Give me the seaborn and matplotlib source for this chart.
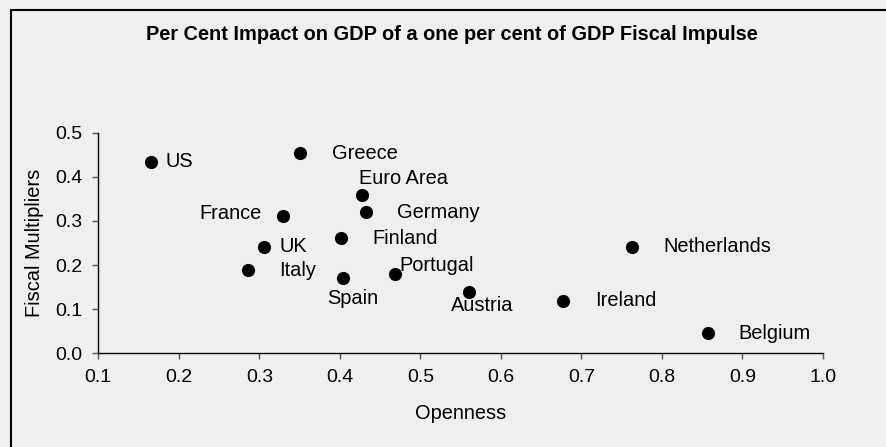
import matplotlib
matplotlib.use("Agg")
import matplotlib.pyplot as plt
from matplotlib.patches import Rectangle
import seaborn as sns
import pandas as pd

countries = ["US", "Greece", "Euro Area", "Germany", "France", "Finland", "UK",
             "Italy", "Spain", "Portugal", "Austria", "Netherlands", "Ireland", "Belgium"]
openness = [0.165, 0.350, 0.428, 0.432, 0.329, 0.402, 0.306,
            0.286, 0.404, 0.468, 0.560, 0.763, 0.677, 0.857]
multipliers = [0.434, 0.453, 0.359, 0.320, 0.311, 0.261, 0.242,
               0.189, 0.171, 0.180, 0.140, 0.242, 0.119, 0.045]
x_ticks = [0.1, 0.2, 0.3, 0.4, 0.5, 0.6, 0.7, 0.8, 0.9, 1.0]
y_ticks = [0.0, 0.1, 0.2, 0.3, 0.4, 0.5]

df = pd.DataFrame({"Country": countries, "Openness": openness, "Fiscal Multipliers": multipliers})

# label placement: (dx, dy) in pixels from the dot, horizontal alignment
label_style = {
    "US": (15, 0, "left"),
    "Greece": (32, 0, "left"),
    "Euro Area": (-3, 16, "left"),
    "Germany": (31, 0, "left"),
    "France": (-21, 3, "right"),
    "Finland": (31, 0, "left"),
    "UK": (15, 0, "left"),
    "Italy": (31, -1, "left"),
    "Spain": (10, -21, "center"),
    "Portugal": (5, 8, "left"),
    "Austria": (14, -14, "center"),
    "Netherlands": (31, 0, "left"),
    "Ireland": (32, 0, "left"),
    "Belgium": (31, 0, "left"),
}

sns.set_style("white")
plt.rcParams["font.family"] = ["Liberation Sans", "DejaVu Sans"]
plt.rcParams["text.color"] = "black"
plt.rcParams["axes.labelcolor"] = "black"
bg = "#efefef"
fs = 14.4

fig = plt.figure(figsize=(8.87, 4.47), dpi=100, facecolor=bg)
fig.patches.append(Rectangle((11.5 / 887, -0.1), 1.2, 1 - 9.5 / 447 + 0.1,
                             transform=fig.transFigure, fill=False,
                             edgecolor="black", linewidth=1.5, zorder=0))

ax = fig.add_axes([98.3 / 887, 1 - 353.3 / 447, (823 - 98.3) / 887, (353.3 - 132.7) / 447])
ax.set_facecolor(bg)

sns.scatterplot(data=df, x="Openness", y="Fiscal Multipliers", ax=ax,
                color="black", s=90, edgecolor="black", linewidth=0, clip_on=False, zorder=3)

for c, x, y in zip(countries, openness, multipliers):
    dx, dy, ha = label_style[c]
    ax.annotate(c, (x, y), xytext=(dx, dy), textcoords="offset pixels",
                ha=ha, va="center", fontsize=fs, color="black")

ax.set_xlim(0.1, 1.0)
ax.set_ylim(0.0, 0.5)
ax.set_xticks(x_ticks)
ax.set_yticks(y_ticks)
ax.set_xticklabels([f"{t:.1f}" for t in x_ticks])
ax.set_yticklabels([f"{t:.1f}" for t in y_ticks])
for side in ("top", "right"):
    ax.spines[side].set_visible(False)
for side in ("left", "bottom"):
    ax.spines[side].set_color("black")
    ax.spines[side].set_linewidth(1.0)
ax.tick_params(axis="both", direction="out", length=4.5, width=1, color="#555555",
               labelsize=14, labelcolor="black", pad=7, left=True, bottom=True)

ax.set_xlabel("Openness", fontsize=fs, labelpad=13)
ax.set_ylabel("Fiscal Multipliers", fontsize=fs, labelpad=8)

fig.text(452 / 887, 1 - 35 / 447, "Per Cent Impact on GDP of a one per cent of GDP Fiscal Impulse",
         ha="center", va="center", fontsize=fs, fontweight="bold")

fig.savefig("out.png", dpi=100, facecolor=bg)
